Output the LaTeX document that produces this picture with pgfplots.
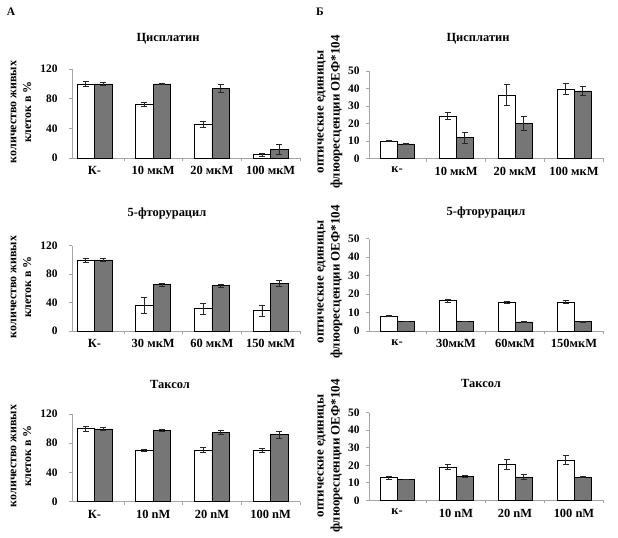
\documentclass[border=0pt]{standalone}
\usepackage{fontspec}
\setmainfont{Liberation Serif}
\usepackage{pgfplots}
\pgfplotsset{compat=1.18}
\definecolor{bargray}{HTML}{767676}
\definecolor{axgray}{HTML}{A6A6A6}
\pgfplotsset{
 panel/.style={
   scale only axis, anchor=south west, ybar,
   axis lines*=left, axis line style={draw=axgray, line width=0.6pt},
   ymin=0, tick align=outside, major tick length=3bp,
   tick style={draw=axgray, line width=0.6pt},
   xtick={0.5,1.5,2.5,3.5}, xticklabels={},
   extra x ticks={0,1,2,3},
   extra x tick style={tick style={draw=none}},
   yticklabel style={font=\bfseries\fontsize{11.5}{12}\selectfont},
   xticklabel style={font=\bfseries\fontsize{12.5}{13}\selectfont, yshift=-2bp},
   /pgf/number format/assume math mode=true,
   xmax=3.5, enlargelimits=false,
   clip=false,
 },
 colA/.style={panel, xmin=-0.383, width=228bp, ymax=120, ytick={0,40,80,120},
   yticklabel style={xshift=-8bp}, bar width=17.5bp},
 colB/.style={panel, xmin=-0.475, width=234.5bp, ymax=50, ytick={0,10,20,30,40,50},
   yticklabel style={xshift=-3bp}, bar width=17bp},
 eb/.style={error bars/.cd, y dir=both, y explicit,
   error bar style={black!85, line width=0.5pt},
   error mark options={rotate=90, mark size=3bp, black!85, line width=0.5pt}},
 wbarA/.style={fill=white, draw=black, line width=0.6pt, bar shift=-8.75bp, eb},
 gbarA/.style={fill=bargray, draw=black, line width=0.6pt, bar shift=8.75bp, eb},
 wbarB/.style={fill=white, draw=black, line width=0.6pt, bar shift=-8.5bp, eb},
 gbarB/.style={fill=bargray, draw=black, line width=0.6pt, bar shift=8.5bp, eb},
}
\begin{document}
\begin{tikzpicture}
\path (0,0) rectangle (618bp,-538bp);
\tikzset{ttl/.style={font=\bfseries\fontsize{12.5}{13}\selectfont},
         ylab/.style={rotate=90, align=center, font=\bfseries\fontsize{12}{15}\selectfont},
         ylabB/.style={rotate=90, align=center, font=\bfseries\fontsize{13}{16}\selectfont}}
\node[font=\bfseries\fontsize{11.5}{12}\selectfont] at (11bp,-12bp) {А};
\node[font=\bfseries\fontsize{11.5}{12}\selectfont] at (320bp,-12bp) {Б};
% ---------- A1
\begin{axis}[colA, at={(72bp,-158bp)}, height=89bp,
  extra x tick labels={К-,10 мкМ,20 мкМ,100 мкМ}]
\addplot[wbarA] coordinates {(0,100) +- (0,3) (1,72) +- (0,2.5) (2,45) +- (0,4) (3,4.5) +- (0,2)};
\addplot[gbarA] coordinates {(0,100) +- (0,2) (1,100) +- (0,1) (2,94) +- (0,5) (3,12) +- (0,7)};
\end{axis}
% ---------- A2
\begin{axis}[colA, at={(72bp,-331bp)}, height=85.3bp,
  extra x tick labels={К-,30 мкМ,60 мкМ,150 мкМ}]
\addplot[wbarA] coordinates {(0,100) +- (0,3) (1,36) +- (0,11) (2,31.5) +- (0,7.5) (3,28.5) +- (0,8)};
\addplot[gbarA] coordinates {(0,100) +- (0,2) (1,65.5) +- (0,2) (2,64) +- (0,2) (3,67) +- (0,4)};
\end{axis}
% ---------- A3
\begin{axis}[colA, at={(72bp,-501.7bp)}, height=87.7bp,
  extra x tick labels={К-,10 nM,20 nM,100 nM}]
\addplot[wbarA] coordinates {(0,100) +- (0,3) (1,70) +- (0,1.5) (2,71) +- (0,3) (3,70) +- (0,2.5)};
\addplot[gbarA] coordinates {(0,99.5) +- (0,2) (1,98) +- (0,1) (2,95) +- (0,3) (3,92) +- (0,5)};
\end{axis}
% ---------- B1
\begin{axis}[colB, at={(369bp,-158.7bp)}, height=87.7bp,
  extra x tick labels={к-,10 мкМ,20 мкМ,100 мкМ}]
\addplot[wbarB] coordinates {(0,10.2) +- (0,0.5) (1,24.4) +- (0,2) (2,36.3) +- (0,6) (3,39.8) +- (0,3)};
\addplot[gbarB] coordinates {(0,8.4) +- (0,0.4) (1,12) +- (0,3) (2,20) +- (0,4) (3,38.6) +- (0,2.5)};
\end{axis}
% ---------- B2
\begin{axis}[colB, at={(369bp,-331bp)}, height=92.3bp,
  extra x tick labels={к-,30мкМ,60мкМ,150мкМ}]
\addplot[wbarB] coordinates {(0,8.1) +- (0,0.3) (1,16.4) +- (0,0.8) (2,15.7) +- (0,0.5) (3,15.8) +- (0,1)};
\addplot[gbarB] coordinates {(0,5.4) +- (0,0) (1,5.4) +- (0,0) (2,4.9) +- (0,0.3) (3,5.0) +- (0,0.3)};
\end{axis}
% ---------- B3
\begin{axis}[colB, at={(369bp,-500.3bp)}, height=87.6bp,
  extra x tick labels={к-,10 nM,20 nM,100 nM}]
\addplot[wbarB] coordinates {(0,12.9) +- (0,0.8) (1,19) +- (0,1.5) (2,20.7) +- (0,3) (3,23) +- (0,2.7)};
\addplot[gbarB] coordinates {(0,12) +- (0,0) (1,13.5) +- (0,0.6) (2,13.4) +- (0,1.5) (3,13.3) +- (0,0.3)};
\end{axis}
% titles
\node[ttl] at (168bp,-39bp) {Цисплатин};
\node[ttl] at (478bp,-39bp) {Цисплатин};
\node[ttl] at (167bp,-214bp) {5-фторурацил};
\node[ttl] at (486bp,-213bp) {5-фторурацил};
\node[ttl] at (170bp,-384bp) {Таксол};
\node[ttl] at (481bp,-383bp) {Таксол};
% y labels
\node[ylab] at (21bp,-112bp) {количество живых\\клеток в \%};
\node[ylab] at (21bp,-287bp) {количество живых\\клеток в \%};
\node[ylab] at (21bp,-456bp) {количество живых\\клеток в \%};
\node[ylabB] at (330bp,-112bp) {оптические единицы\\флюоресценции ОЕФ*104};
\node[ylabB] at (330bp,-282bp) {оптические единицы\\флюоресценции ОЕФ*104};
\node[ylabB] at (330bp,-456bp) {оптические единицы\\флюоресценции ОЕФ*104};
\end{tikzpicture}
\end{document}
